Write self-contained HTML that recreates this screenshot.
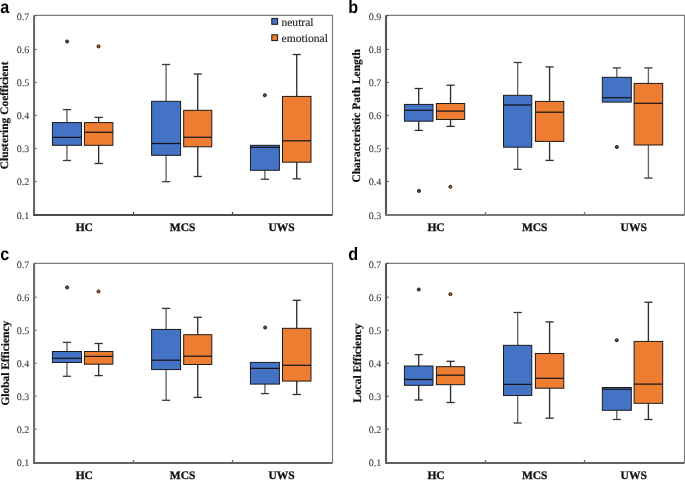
<!DOCTYPE html>
<html><head><meta charset="utf-8"><title>Box plots: network measures</title>
<style>
html,body{margin:0;padding:0;background:#fff;}
body{width:685px;height:480px;overflow:hidden;}
svg{display:block;will-change:transform;filter:blur(0.42px);text-rendering:geometricPrecision;}
.tk{font-family:"Liberation Serif",serif;font-size:10px;fill:#383838;stroke:#383838;stroke-width:0.08px;text-anchor:end;}
.xl{font-family:"Liberation Serif",serif;font-size:11.5px;font-weight:bold;fill:#111;stroke:#111;stroke-width:0.3px;text-anchor:middle;}
.yl{font-family:"Liberation Serif",serif;font-size:11.45px;font-weight:bold;fill:#111;stroke:#111;stroke-width:0.18px;text-anchor:middle;}
.lt{font-family:"Liberation Sans",sans-serif;font-size:17.8px;font-weight:bold;fill:#000;}
.lg{font-family:"Liberation Serif",serif;font-size:11.6px;fill:#262626;stroke:#262626;stroke-width:0.15px;}
</style></head>
<body>
<svg width="685" height="480" viewBox="0 0 685 480">
<rect width="685" height="480" fill="#fff"/>
<g id="panel-a">
<path d="M34.05 15.4H332.5V215" fill="none" stroke="#7c7c7c" stroke-width="1.15"/>
<text x="29.35" y="19.8" class="tk">0.7</text>
<path d="M34.05 49.4h2.8" stroke="#686868" stroke-width="1"/>
<text x="29.35" y="52.93" class="tk">0.6</text>
<path d="M34.05 82.4h2.8" stroke="#686868" stroke-width="1"/>
<text x="29.35" y="86.06" class="tk">0.5</text>
<path d="M34.05 115.4h2.8" stroke="#686868" stroke-width="1"/>
<text x="29.35" y="119.19" class="tk">0.4</text>
<path d="M34.05 148.4h2.8" stroke="#686868" stroke-width="1"/>
<text x="29.35" y="152.32" class="tk">0.3</text>
<path d="M34.05 181.4h2.8" stroke="#686868" stroke-width="1"/>
<text x="29.35" y="185.45" class="tk">0.2</text>
<text x="29.35" y="218.58" class="tk">0.1</text>
<path d="M34.05 15.6h2.8" stroke="#686868" stroke-width="1.2"/>
<path d="M133.5 215v-3" stroke="#4c4c4c" stroke-width="1.3"/>
<path d="M232.5 215v-3" stroke="#4c4c4c" stroke-width="1.3"/>
<path d="M34.05 15.4V215" fill="none" stroke="#686868" stroke-width="2.1"/>
<path d="M33.05 215H332.5" fill="none" stroke="#4c4c4c" stroke-width="2"/>
<text x="84.3" y="231.1" class="xl">HC</text>
<text x="182.6" y="231.1" class="xl">MCS</text>
<text x="281.65" y="231.1" class="xl">UWS</text>
<text class="yl" transform="translate(7.9 115.3) rotate(-90)">Clustering Coefficient</text>
<text transform="translate(0.3 12.9) scale(0.91 1)" class="lt">a</text>
<path d="M66.95 122.6V109.6" stroke="#636363" stroke-width="1.35"/>
<path d="M62.85 109.6H71.05" stroke="#3a3a3a" stroke-width="1.3"/>
<path d="M66.95 145.3V160.5" stroke="#636363" stroke-width="1.35"/>
<path d="M62.85 160.5H71.05" stroke="#3a3a3a" stroke-width="1.3"/>
<rect x="52.4" y="122.6" width="29.1" height="22.7" fill="#4472C4" stroke="#141414" stroke-width="0.95"/>
<path d="M52.4 137.4H81.5" stroke="#161616" stroke-width="1.25"/>
<circle cx="67.1" cy="41.5" r="1.55" fill="#2d4f8f" stroke="#161616" stroke-width="0.9"/>
<path d="M98.65 122.6V117.4" stroke="#2e2e2e" stroke-width="1.35"/>
<path d="M94.55 117.4H102.75" stroke="#2e2e2e" stroke-width="1.3"/>
<path d="M98.65 145.3V163.5" stroke="#2e2e2e" stroke-width="1.35"/>
<path d="M94.55 163.5H102.75" stroke="#2e2e2e" stroke-width="1.3"/>
<rect x="84.4" y="122.6" width="28.5" height="22.7" fill="#ED7D31" stroke="#141414" stroke-width="0.95"/>
<path d="M84.4 132.3H112.9" stroke="#161616" stroke-width="1.25"/>
<circle cx="98.5" cy="46.4" r="1.55" fill="#b35a20" stroke="#161616" stroke-width="0.9"/>
<path d="M166.1 101.3V64.5" stroke="#636363" stroke-width="1.35"/>
<path d="M162 64.5H170.2" stroke="#3a3a3a" stroke-width="1.3"/>
<path d="M166.1 155.3V181.7" stroke="#636363" stroke-width="1.35"/>
<path d="M162 181.7H170.2" stroke="#3a3a3a" stroke-width="1.3"/>
<rect x="151.6" y="101.3" width="29" height="54" fill="#4472C4" stroke="#141414" stroke-width="0.95"/>
<path d="M151.6 143.5H180.6" stroke="#161616" stroke-width="1.25"/>
<path d="M197.75 110.3V74" stroke="#2e2e2e" stroke-width="1.35"/>
<path d="M193.65 74H201.85" stroke="#2e2e2e" stroke-width="1.3"/>
<path d="M197.75 146.8V176.5" stroke="#2e2e2e" stroke-width="1.35"/>
<path d="M193.65 176.5H201.85" stroke="#2e2e2e" stroke-width="1.3"/>
<rect x="183.7" y="110.3" width="28.1" height="36.5" fill="#ED7D31" stroke="#141414" stroke-width="0.95"/>
<path d="M183.7 137.3H211.8" stroke="#161616" stroke-width="1.25"/>
<path d="M264.9 170.3V179.2" stroke="#636363" stroke-width="1.35"/>
<path d="M260.8 179.2H269" stroke="#3a3a3a" stroke-width="1.3"/>
<rect x="250.4" y="145.3" width="29" height="25" fill="#4472C4" stroke="#141414" stroke-width="0.95"/>
<path d="M250.4 147.3H279.4" stroke="#161616" stroke-width="1.25"/>
<circle cx="264.8" cy="95.2" r="1.55" fill="#2d4f8f" stroke="#161616" stroke-width="0.9"/>
<path d="M296.75 96.4V54.5" stroke="#2e2e2e" stroke-width="1.35"/>
<path d="M292.65 54.5H300.85" stroke="#2e2e2e" stroke-width="1.3"/>
<path d="M296.75 162.2V178.8" stroke="#2e2e2e" stroke-width="1.35"/>
<path d="M292.65 178.8H300.85" stroke="#2e2e2e" stroke-width="1.3"/>
<rect x="282.5" y="96.4" width="28.5" height="65.8" fill="#ED7D31" stroke="#141414" stroke-width="0.95"/>
<path d="M282.5 140.8H311" stroke="#161616" stroke-width="1.25"/>
<rect x="271.8" y="18.4" width="5.8" height="5.9" fill="#4472C4" stroke="#141414" stroke-width="1"/>
<rect x="271.8" y="34.8" width="5.8" height="5.8" fill="#ED7D31" stroke="#141414" stroke-width="1"/>
<text x="281.4" y="25.9" class="lg">neutral</text>
<text x="281.5" y="42" class="lg">emotional</text>
</g>
<g id="panel-b">
<path d="M386 15.4H684.5V215" fill="none" stroke="#7c7c7c" stroke-width="1.15"/>
<text x="381.3" y="19.8" class="tk">0.9</text>
<path d="M386 49.4h2.8" stroke="#575757" stroke-width="1"/>
<text x="381.3" y="52.93" class="tk">0.8</text>
<path d="M386 82.4h2.8" stroke="#575757" stroke-width="1"/>
<text x="381.3" y="86.06" class="tk">0.7</text>
<path d="M386 115.4h2.8" stroke="#575757" stroke-width="1"/>
<text x="381.3" y="119.19" class="tk">0.6</text>
<path d="M386 148.4h2.8" stroke="#575757" stroke-width="1"/>
<text x="381.3" y="152.32" class="tk">0.5</text>
<path d="M386 181.4h2.8" stroke="#575757" stroke-width="1"/>
<text x="381.3" y="185.45" class="tk">0.4</text>
<text x="381.3" y="218.58" class="tk">0.3</text>
<path d="M386 15.6h2.8" stroke="#575757" stroke-width="1.2"/>
<path d="M485.5 215v-3" stroke="#767676" stroke-width="1.3"/>
<path d="M584.5 215v-3" stroke="#767676" stroke-width="1.3"/>
<path d="M386 15.4V215" fill="none" stroke="#575757" stroke-width="2.1"/>
<path d="M385 215H684.5" fill="none" stroke="#767676" stroke-width="2"/>
<text x="436" y="231.1" class="xl">HC</text>
<text x="534.7" y="231.1" class="xl">MCS</text>
<text x="633.7" y="231.1" class="xl">UWS</text>
<text class="yl" transform="translate(360.4 115.8) rotate(-90)">Characteristic Path Length</text>
<text transform="translate(348.2 12.9) scale(0.91 1)" class="lt">b</text>
<path d="M418.7 104.4V88.5" stroke="#2e2e2e" stroke-width="1.35"/>
<path d="M414.6 88.5H422.8" stroke="#2e2e2e" stroke-width="1.3"/>
<path d="M418.7 121.2V130.4" stroke="#2e2e2e" stroke-width="1.35"/>
<path d="M414.6 130.4H422.8" stroke="#2e2e2e" stroke-width="1.3"/>
<rect x="404.4" y="104.4" width="28.6" height="16.8" fill="#4472C4" stroke="#141414" stroke-width="0.95"/>
<path d="M404.4 110.3H433" stroke="#161616" stroke-width="1.25"/>
<circle cx="419" cy="190.9" r="1.55" fill="#2d4f8f" stroke="#161616" stroke-width="0.9"/>
<path d="M450.55 103.5V85.2" stroke="#2e2e2e" stroke-width="1.35"/>
<path d="M446.45 85.2H454.65" stroke="#2e2e2e" stroke-width="1.3"/>
<path d="M450.55 119.5V126.4" stroke="#2e2e2e" stroke-width="1.35"/>
<path d="M446.45 126.4H454.65" stroke="#2e2e2e" stroke-width="1.3"/>
<rect x="436.4" y="103.5" width="28.3" height="16" fill="#ED7D31" stroke="#141414" stroke-width="0.95"/>
<path d="M436.4 111.1H464.7" stroke="#161616" stroke-width="1.25"/>
<circle cx="450.4" cy="186.8" r="1.55" fill="#b35a20" stroke="#161616" stroke-width="0.9"/>
<path d="M517.65 95.3V62.5" stroke="#636363" stroke-width="1.35"/>
<path d="M513.55 62.5H521.75" stroke="#3a3a3a" stroke-width="1.3"/>
<path d="M517.65 147.2V169.3" stroke="#636363" stroke-width="1.35"/>
<path d="M513.55 169.3H521.75" stroke="#3a3a3a" stroke-width="1.3"/>
<rect x="503.5" y="95.3" width="28.3" height="51.9" fill="#4472C4" stroke="#141414" stroke-width="0.95"/>
<path d="M503.5 105H531.8" stroke="#161616" stroke-width="1.25"/>
<path d="M549.6 101.4V66.9" stroke="#2e2e2e" stroke-width="1.35"/>
<path d="M545.5 66.9H553.7" stroke="#2e2e2e" stroke-width="1.3"/>
<path d="M549.6 141.4V160.4" stroke="#2e2e2e" stroke-width="1.35"/>
<path d="M545.5 160.4H553.7" stroke="#2e2e2e" stroke-width="1.3"/>
<rect x="535.4" y="101.4" width="28.4" height="40" fill="#ED7D31" stroke="#141414" stroke-width="0.95"/>
<path d="M535.4 112.2H563.8" stroke="#161616" stroke-width="1.25"/>
<path d="M616.8 77.3V67.9" stroke="#636363" stroke-width="1.35"/>
<path d="M612.7 67.9H620.9" stroke="#3a3a3a" stroke-width="1.3"/>
<rect x="602.3" y="77.3" width="29" height="24.8" fill="#4472C4" stroke="#141414" stroke-width="0.95"/>
<path d="M602.3 97.7H631.3" stroke="#161616" stroke-width="1.25"/>
<circle cx="616.8" cy="147" r="1.55" fill="#2d4f8f" stroke="#161616" stroke-width="0.9"/>
<path d="M648.4 83.4V67.9" stroke="#636363" stroke-width="1.35"/>
<path d="M644.3 67.9H652.5" stroke="#3a3a3a" stroke-width="1.3"/>
<path d="M648.4 145V178.1" stroke="#636363" stroke-width="1.35"/>
<path d="M644.3 178.1H652.5" stroke="#3a3a3a" stroke-width="1.3"/>
<rect x="634.1" y="83.4" width="28.6" height="61.6" fill="#ED7D31" stroke="#141414" stroke-width="0.95"/>
<path d="M634.1 103.3H662.7" stroke="#161616" stroke-width="1.25"/>
</g>
<g id="panel-c">
<path d="M34.05 263.3H332.5V463" fill="none" stroke="#7c7c7c" stroke-width="1.15"/>
<text x="29.35" y="267.6" class="tk">0.7</text>
<path d="M34.05 297.2h2.8" stroke="#6c6c6c" stroke-width="1"/>
<text x="29.35" y="300.73" class="tk">0.6</text>
<path d="M34.05 330.2h2.8" stroke="#6c6c6c" stroke-width="1"/>
<text x="29.35" y="333.86" class="tk">0.5</text>
<path d="M34.05 363.2h2.8" stroke="#6c6c6c" stroke-width="1"/>
<text x="29.35" y="366.99" class="tk">0.4</text>
<path d="M34.05 396.2h2.8" stroke="#6c6c6c" stroke-width="1"/>
<text x="29.35" y="400.12" class="tk">0.3</text>
<path d="M34.05 429.2h2.8" stroke="#6c6c6c" stroke-width="1"/>
<text x="29.35" y="433.25" class="tk">0.2</text>
<text x="29.35" y="466.38" class="tk">0.1</text>
<path d="M34.05 263.5h2.8" stroke="#6c6c6c" stroke-width="1.2"/>
<path d="M133.5 463v-3" stroke="#636363" stroke-width="1.3"/>
<path d="M232.5 463v-3" stroke="#636363" stroke-width="1.3"/>
<path d="M34.05 263.3V463" fill="none" stroke="#6c6c6c" stroke-width="2.1"/>
<path d="M33.05 463H332.5" fill="none" stroke="#636363" stroke-width="2"/>
<text x="84.3" y="479.1" class="xl">HC</text>
<text x="182.6" y="479.1" class="xl">MCS</text>
<text x="281.65" y="479.1" class="xl">UWS</text>
<text class="yl" transform="translate(8.5 363.2) rotate(-90)">Global Efficiency</text>
<text transform="translate(0.3 260.4) scale(0.91 1)" class="lt">c</text>
<path d="M66.95 351.5V342.4" stroke="#636363" stroke-width="1.35"/>
<path d="M62.85 342.4H71.05" stroke="#3a3a3a" stroke-width="1.3"/>
<path d="M66.95 362.5V376.3" stroke="#636363" stroke-width="1.35"/>
<path d="M62.85 376.3H71.05" stroke="#3a3a3a" stroke-width="1.3"/>
<rect x="52.4" y="351.5" width="29.1" height="11" fill="#4472C4" stroke="#141414" stroke-width="0.95"/>
<path d="M52.4 358.3H81.5" stroke="#161616" stroke-width="1.25"/>
<circle cx="67.1" cy="287.4" r="1.55" fill="#2d4f8f" stroke="#161616" stroke-width="0.9"/>
<path d="M98.65 351.5V343.5" stroke="#2e2e2e" stroke-width="1.35"/>
<path d="M94.55 343.5H102.75" stroke="#2e2e2e" stroke-width="1.3"/>
<path d="M98.65 364.2V375.6" stroke="#2e2e2e" stroke-width="1.35"/>
<path d="M94.55 375.6H102.75" stroke="#2e2e2e" stroke-width="1.3"/>
<rect x="84.4" y="351.5" width="28.5" height="12.7" fill="#ED7D31" stroke="#141414" stroke-width="0.95"/>
<path d="M84.4 356.4H112.9" stroke="#161616" stroke-width="1.25"/>
<circle cx="98.5" cy="291.5" r="1.55" fill="#b35a20" stroke="#161616" stroke-width="0.9"/>
<path d="M166.1 329.4V308.4" stroke="#636363" stroke-width="1.35"/>
<path d="M162 308.4H170.2" stroke="#3a3a3a" stroke-width="1.3"/>
<path d="M166.1 369.6V400.3" stroke="#636363" stroke-width="1.35"/>
<path d="M162 400.3H170.2" stroke="#3a3a3a" stroke-width="1.3"/>
<rect x="151.6" y="329.4" width="29" height="40.2" fill="#4472C4" stroke="#141414" stroke-width="0.95"/>
<path d="M151.6 360.2H180.6" stroke="#161616" stroke-width="1.25"/>
<path d="M197.75 334.7V317.3" stroke="#2e2e2e" stroke-width="1.35"/>
<path d="M193.65 317.3H201.85" stroke="#2e2e2e" stroke-width="1.3"/>
<path d="M197.75 364.5V397.4" stroke="#2e2e2e" stroke-width="1.35"/>
<path d="M193.65 397.4H201.85" stroke="#2e2e2e" stroke-width="1.3"/>
<rect x="183.7" y="334.7" width="28.1" height="29.8" fill="#ED7D31" stroke="#141414" stroke-width="0.95"/>
<path d="M183.7 356.2H211.8" stroke="#161616" stroke-width="1.25"/>
<path d="M264.9 384.1V393.6" stroke="#636363" stroke-width="1.35"/>
<path d="M260.8 393.6H269" stroke="#3a3a3a" stroke-width="1.3"/>
<rect x="250.4" y="362.4" width="29" height="21.7" fill="#4472C4" stroke="#141414" stroke-width="0.95"/>
<path d="M250.4 368.4H279.4" stroke="#161616" stroke-width="1.25"/>
<circle cx="265.1" cy="327.5" r="1.55" fill="#2d4f8f" stroke="#161616" stroke-width="0.9"/>
<path d="M296.75 328.3V300.3" stroke="#2e2e2e" stroke-width="1.35"/>
<path d="M292.65 300.3H300.85" stroke="#2e2e2e" stroke-width="1.3"/>
<path d="M296.75 381.1V394.5" stroke="#2e2e2e" stroke-width="1.35"/>
<path d="M292.65 394.5H300.85" stroke="#2e2e2e" stroke-width="1.3"/>
<rect x="282.5" y="328.3" width="28.5" height="52.8" fill="#ED7D31" stroke="#141414" stroke-width="0.95"/>
<path d="M282.5 365.3H311" stroke="#161616" stroke-width="1.25"/>
</g>
<g id="panel-d">
<path d="M386 263.3H684.5V463" fill="none" stroke="#7c7c7c" stroke-width="1.15"/>
<text x="381.3" y="267.6" class="tk">0.7</text>
<path d="M386 297.2h2.8" stroke="#585858" stroke-width="1"/>
<text x="381.3" y="300.73" class="tk">0.6</text>
<path d="M386 330.2h2.8" stroke="#585858" stroke-width="1"/>
<text x="381.3" y="333.86" class="tk">0.5</text>
<path d="M386 363.2h2.8" stroke="#585858" stroke-width="1"/>
<text x="381.3" y="366.99" class="tk">0.4</text>
<path d="M386 396.2h2.8" stroke="#585858" stroke-width="1"/>
<text x="381.3" y="400.12" class="tk">0.3</text>
<path d="M386 429.2h2.8" stroke="#585858" stroke-width="1"/>
<text x="381.3" y="433.25" class="tk">0.2</text>
<text x="381.3" y="466.38" class="tk">0.1</text>
<path d="M386 263.5h2.8" stroke="#585858" stroke-width="1.2"/>
<path d="M485.5 463v-3" stroke="#626262" stroke-width="1.3"/>
<path d="M584.5 463v-3" stroke="#626262" stroke-width="1.3"/>
<path d="M386 263.3V463" fill="none" stroke="#585858" stroke-width="2.1"/>
<path d="M385 463H684.5" fill="none" stroke="#626262" stroke-width="2"/>
<text x="436" y="479.1" class="xl">HC</text>
<text x="534.7" y="479.1" class="xl">MCS</text>
<text x="633.7" y="479.1" class="xl">UWS</text>
<text class="yl" transform="translate(360.5 363.2) rotate(-90)">Local Efficiency</text>
<text transform="translate(348.2 260.4) scale(0.91 1)" class="lt">d</text>
<path d="M418.7 366V354.6" stroke="#2e2e2e" stroke-width="1.35"/>
<path d="M414.6 354.6H422.8" stroke="#2e2e2e" stroke-width="1.3"/>
<path d="M418.7 385.3V400" stroke="#2e2e2e" stroke-width="1.35"/>
<path d="M414.6 400H422.8" stroke="#2e2e2e" stroke-width="1.3"/>
<rect x="404.4" y="366" width="28.6" height="19.3" fill="#4472C4" stroke="#141414" stroke-width="0.95"/>
<path d="M404.4 379.5H433" stroke="#161616" stroke-width="1.25"/>
<circle cx="418.8" cy="289.5" r="1.55" fill="#2d4f8f" stroke="#161616" stroke-width="0.9"/>
<path d="M450.55 366.7V361.3" stroke="#2e2e2e" stroke-width="1.35"/>
<path d="M446.45 361.3H454.65" stroke="#2e2e2e" stroke-width="1.3"/>
<path d="M450.55 384.7V402.5" stroke="#2e2e2e" stroke-width="1.35"/>
<path d="M446.45 402.5H454.65" stroke="#2e2e2e" stroke-width="1.3"/>
<rect x="436.4" y="366.7" width="28.3" height="18" fill="#ED7D31" stroke="#141414" stroke-width="0.95"/>
<path d="M436.4 375.2H464.7" stroke="#161616" stroke-width="1.25"/>
<circle cx="450.4" cy="294.2" r="1.55" fill="#b35a20" stroke="#161616" stroke-width="0.9"/>
<path d="M517.65 345.3V312.5" stroke="#636363" stroke-width="1.35"/>
<path d="M513.55 312.5H521.75" stroke="#3a3a3a" stroke-width="1.3"/>
<path d="M517.65 395.5V423" stroke="#636363" stroke-width="1.35"/>
<path d="M513.55 423H521.75" stroke="#3a3a3a" stroke-width="1.3"/>
<rect x="503.5" y="345.3" width="28.3" height="50.2" fill="#4472C4" stroke="#141414" stroke-width="0.95"/>
<path d="M503.5 384.4H531.8" stroke="#161616" stroke-width="1.25"/>
<path d="M549.6 353.5V321.9" stroke="#2e2e2e" stroke-width="1.35"/>
<path d="M545.5 321.9H553.7" stroke="#2e2e2e" stroke-width="1.3"/>
<path d="M549.6 388.2V418.2" stroke="#2e2e2e" stroke-width="1.35"/>
<path d="M545.5 418.2H553.7" stroke="#2e2e2e" stroke-width="1.3"/>
<rect x="535.4" y="353.5" width="28.4" height="34.7" fill="#ED7D31" stroke="#141414" stroke-width="0.95"/>
<path d="M535.4 378.3H563.8" stroke="#161616" stroke-width="1.25"/>
<path d="M616.8 410.3V419.5" stroke="#636363" stroke-width="1.35"/>
<path d="M612.7 419.5H620.9" stroke="#3a3a3a" stroke-width="1.3"/>
<rect x="602.3" y="387.5" width="29" height="22.8" fill="#4472C4" stroke="#141414" stroke-width="0.95"/>
<path d="M602.3 389.2H631.3" stroke="#161616" stroke-width="1.25"/>
<circle cx="616.7" cy="340.2" r="1.55" fill="#2d4f8f" stroke="#161616" stroke-width="0.9"/>
<path d="M648.4 341.4V302.2" stroke="#2e2e2e" stroke-width="1.35"/>
<path d="M644.3 302.2H652.5" stroke="#2e2e2e" stroke-width="1.3"/>
<path d="M648.4 403.3V419.5" stroke="#2e2e2e" stroke-width="1.35"/>
<path d="M644.3 419.5H652.5" stroke="#2e2e2e" stroke-width="1.3"/>
<rect x="634.1" y="341.4" width="28.6" height="61.9" fill="#ED7D31" stroke="#141414" stroke-width="0.95"/>
<path d="M634.1 384.1H662.7" stroke="#161616" stroke-width="1.25"/>
</g>
</svg>
</body></html>
